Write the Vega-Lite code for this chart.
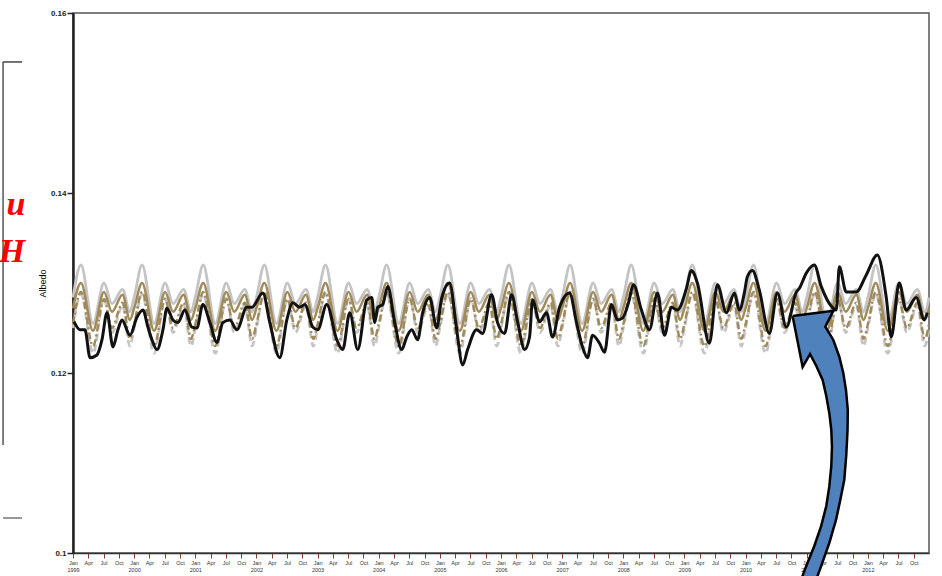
{
"$schema":"https://vega.github.io/schema/vega-lite/v6.json",
"width":856,"height":540,"autosize":"none",
"padding":{"left":73,"top":13,"right":13,"bottom":23},
"background":"white",
"config":{"view":{"stroke":"#555","strokeWidth":1.5},"font":"Liberation Sans"},
"datasets":{
"model":[
{"t":1999,"g":0.1284,"b":0.1272,"c":0.1254,"e":0.125},{"t":1999.13,"g":0.132,"b":0.13,"c":0.129,"e":0.1288},{"t":1999.327,"g":0.1255,"b":0.1247,"c":0.123,"e":0.1222},{"t":1999.507,"g":0.13,"b":0.129,"c":0.1282,"e":0.1283},{"t":1999.637,"g":0.1277,"b":0.1268,"c":0.125,"e":0.1245},{"t":1999.81,"g":0.1293,"b":0.1287,"c":0.1278,"e":0.1275},{"t":1999.93,"g":0.1268,"b":0.1259,"c":0.1238,"e":0.123},
{"t":2000,"g":0.1284,"b":0.1272,"c":0.1254,"e":0.125},{"t":2000.13,"g":0.132,"b":0.13,"c":0.129,"e":0.1288},{"t":2000.327,"g":0.1255,"b":0.1247,"c":0.123,"e":0.1222},{"t":2000.507,"g":0.13,"b":0.129,"c":0.1282,"e":0.1283},{"t":2000.637,"g":0.1277,"b":0.1268,"c":0.125,"e":0.1245},{"t":2000.81,"g":0.1293,"b":0.1287,"c":0.1278,"e":0.1275},{"t":2000.93,"g":0.1268,"b":0.1259,"c":0.1238,"e":0.123},
{"t":2001,"g":0.1284,"b":0.1272,"c":0.1254,"e":0.125},{"t":2001.13,"g":0.132,"b":0.13,"c":0.129,"e":0.1288},{"t":2001.327,"g":0.1255,"b":0.1247,"c":0.123,"e":0.1222},{"t":2001.507,"g":0.13,"b":0.129,"c":0.1282,"e":0.1283},{"t":2001.637,"g":0.1277,"b":0.1268,"c":0.125,"e":0.1245},{"t":2001.81,"g":0.1293,"b":0.1287,"c":0.1278,"e":0.1275},{"t":2001.93,"g":0.1268,"b":0.1259,"c":0.1238,"e":0.123},
{"t":2002,"g":0.1284,"b":0.1272,"c":0.1254,"e":0.125},{"t":2002.13,"g":0.132,"b":0.13,"c":0.129,"e":0.1288},{"t":2002.327,"g":0.1255,"b":0.1247,"c":0.123,"e":0.1222},{"t":2002.507,"g":0.13,"b":0.129,"c":0.1282,"e":0.1283},{"t":2002.637,"g":0.1277,"b":0.1268,"c":0.125,"e":0.1245},{"t":2002.81,"g":0.1293,"b":0.1287,"c":0.1278,"e":0.1275},{"t":2002.93,"g":0.1268,"b":0.1259,"c":0.1238,"e":0.123},
{"t":2003,"g":0.1284,"b":0.1272,"c":0.1254,"e":0.125},{"t":2003.13,"g":0.132,"b":0.13,"c":0.129,"e":0.1288},{"t":2003.327,"g":0.1255,"b":0.1247,"c":0.123,"e":0.1222},{"t":2003.507,"g":0.13,"b":0.129,"c":0.1282,"e":0.1283},{"t":2003.637,"g":0.1277,"b":0.1268,"c":0.125,"e":0.1245},{"t":2003.81,"g":0.1293,"b":0.1287,"c":0.1278,"e":0.1275},{"t":2003.93,"g":0.1268,"b":0.1259,"c":0.1238,"e":0.123},
{"t":2004,"g":0.1284,"b":0.1272,"c":0.1254,"e":0.125},{"t":2004.13,"g":0.132,"b":0.13,"c":0.129,"e":0.1288},{"t":2004.327,"g":0.1255,"b":0.1247,"c":0.123,"e":0.1222},{"t":2004.507,"g":0.13,"b":0.129,"c":0.1282,"e":0.1283},{"t":2004.637,"g":0.1277,"b":0.1268,"c":0.125,"e":0.1245},{"t":2004.81,"g":0.1293,"b":0.1287,"c":0.1278,"e":0.1275},{"t":2004.93,"g":0.1268,"b":0.1259,"c":0.1238,"e":0.123},
{"t":2005,"g":0.1284,"b":0.1272,"c":0.1254,"e":0.125},{"t":2005.13,"g":0.132,"b":0.13,"c":0.129,"e":0.1288},{"t":2005.327,"g":0.1255,"b":0.1247,"c":0.123,"e":0.1222},{"t":2005.507,"g":0.13,"b":0.129,"c":0.1282,"e":0.1283},{"t":2005.637,"g":0.1277,"b":0.1268,"c":0.125,"e":0.1245},{"t":2005.81,"g":0.1293,"b":0.1287,"c":0.1278,"e":0.1275},{"t":2005.93,"g":0.1268,"b":0.1259,"c":0.1238,"e":0.123},
{"t":2006,"g":0.1284,"b":0.1272,"c":0.1254,"e":0.125},{"t":2006.13,"g":0.132,"b":0.13,"c":0.129,"e":0.1288},{"t":2006.327,"g":0.1255,"b":0.1247,"c":0.123,"e":0.1222},{"t":2006.507,"g":0.13,"b":0.129,"c":0.1282,"e":0.1283},{"t":2006.637,"g":0.1277,"b":0.1268,"c":0.125,"e":0.1245},{"t":2006.81,"g":0.1293,"b":0.1287,"c":0.1278,"e":0.1275},{"t":2006.93,"g":0.1268,"b":0.1259,"c":0.1238,"e":0.123},
{"t":2007,"g":0.1284,"b":0.1272,"c":0.1254,"e":0.125},{"t":2007.13,"g":0.132,"b":0.13,"c":0.129,"e":0.1288},{"t":2007.327,"g":0.1255,"b":0.1247,"c":0.123,"e":0.1222},{"t":2007.507,"g":0.13,"b":0.129,"c":0.1282,"e":0.1283},{"t":2007.637,"g":0.1277,"b":0.1268,"c":0.125,"e":0.1245},{"t":2007.81,"g":0.1293,"b":0.1287,"c":0.1278,"e":0.1275},{"t":2007.93,"g":0.1268,"b":0.1259,"c":0.1238,"e":0.123},
{"t":2008,"g":0.1284,"b":0.1272,"c":0.1254,"e":0.125},{"t":2008.13,"g":0.132,"b":0.13,"c":0.129,"e":0.1288},{"t":2008.327,"g":0.1255,"b":0.1247,"c":0.123,"e":0.1222},{"t":2008.507,"g":0.13,"b":0.129,"c":0.1282,"e":0.1283},{"t":2008.637,"g":0.1277,"b":0.1268,"c":0.125,"e":0.1245},{"t":2008.81,"g":0.1293,"b":0.1287,"c":0.1278,"e":0.1275},{"t":2008.93,"g":0.1268,"b":0.1259,"c":0.1238,"e":0.123},
{"t":2009,"g":0.1284,"b":0.1272,"c":0.1254,"e":0.125},{"t":2009.13,"g":0.132,"b":0.13,"c":0.129,"e":0.1288},{"t":2009.327,"g":0.1255,"b":0.1247,"c":0.123,"e":0.1222},{"t":2009.507,"g":0.13,"b":0.129,"c":0.1282,"e":0.1283},{"t":2009.637,"g":0.1277,"b":0.1268,"c":0.125,"e":0.1245},{"t":2009.81,"g":0.1293,"b":0.1287,"c":0.1278,"e":0.1275},{"t":2009.93,"g":0.1268,"b":0.1259,"c":0.1238,"e":0.123},
{"t":2010,"g":0.1284,"b":0.1272,"c":0.1254,"e":0.125},{"t":2010.13,"g":0.132,"b":0.13,"c":0.129,"e":0.1288},{"t":2010.327,"g":0.1255,"b":0.1247,"c":0.123,"e":0.1222},{"t":2010.507,"g":0.13,"b":0.129,"c":0.1282,"e":0.1283},{"t":2010.637,"g":0.1277,"b":0.1268,"c":0.125,"e":0.1245},{"t":2010.81,"g":0.1293,"b":0.1287,"c":0.1278,"e":0.1275},{"t":2010.93,"g":0.1268,"b":0.1259,"c":0.1238,"e":0.123},
{"t":2011,"g":0.1284,"b":0.1272,"c":0.1254,"e":0.125},{"t":2011.13,"g":0.132,"b":0.13,"c":0.129,"e":0.1288},{"t":2011.327,"g":0.1255,"b":0.1247,"c":0.123,"e":0.1222},{"t":2011.507,"g":0.13,"b":0.129,"c":0.1282,"e":0.1283},{"t":2011.637,"g":0.1277,"b":0.1268,"c":0.125,"e":0.1245},{"t":2011.81,"g":0.1293,"b":0.1287,"c":0.1278,"e":0.1275},{"t":2011.93,"g":0.1268,"b":0.1259,"c":0.1238,"e":0.123},
{"t":2012,"g":0.1284,"b":0.1272,"c":0.1254,"e":0.125},{"t":2012.13,"g":0.132,"b":0.13,"c":0.129,"e":0.1288},{"t":2012.327,"g":0.1255,"b":0.1247,"c":0.123,"e":0.1222},{"t":2012.507,"g":0.13,"b":0.129,"c":0.1282,"e":0.1283},{"t":2012.637,"g":0.1277,"b":0.1268,"c":0.125,"e":0.1245},{"t":2012.81,"g":0.1293,"b":0.1287,"c":0.1278,"e":0.1275},{"t":2012.93,"g":0.1268,"b":0.1259,"c":0.1238,"e":0.123},
{"t":2013,"g":0.1284,"b":0.1272,"c":0.1254,"e":0.125}
],
"obs":[
{"t":1999.016,"v":0.1257},{"t":1999.114,"v":0.1248},{"t":1999.196,"v":0.1248},{"t":1999.278,"v":0.1217},{"t":1999.392,"v":0.122},{"t":1999.474,"v":0.1237},{"t":1999.556,"v":0.1267},{"t":1999.654,"v":0.1229},{"t":1999.735,"v":0.1248},{"t":1999.801,"v":0.1259},{"t":1999.931,"v":0.1242},
{"t":2000.046,"v":0.1262},{"t":2000.144,"v":0.127},{"t":2000.225,"v":0.1251},{"t":2000.291,"v":0.1237},{"t":2000.373,"v":0.1226},{"t":2000.471,"v":0.1248},{"t":2000.536,"v":0.1272},{"t":2000.634,"v":0.1259},{"t":2000.716,"v":0.1256},{"t":2000.83,"v":0.127},{"t":2000.944,"v":0.1251},
{"t":2001.026,"v":0.125},{"t":2001.124,"v":0.1276},{"t":2001.239,"v":0.1256},{"t":2001.353,"v":0.1234},{"t":2001.451,"v":0.1256},{"t":2001.565,"v":0.1259},{"t":2001.68,"v":0.1248},{"t":2001.843,"v":0.1273},{"t":2001.925,"v":0.1273},
{"t":2002.105,"v":0.1289},{"t":2002.219,"v":0.1256},{"t":2002.382,"v":0.1217},{"t":2002.497,"v":0.1259},{"t":2002.595,"v":0.1278},{"t":2002.709,"v":0.1273},{"t":2002.791,"v":0.1276},{"t":2002.922,"v":0.1251},
{"t":2003.003,"v":0.1248},{"t":2003.15,"v":0.1276},{"t":2003.314,"v":0.1237},{"t":2003.412,"v":0.1226},{"t":2003.526,"v":0.1267},{"t":2003.657,"v":0.1226},{"t":2003.804,"v":0.1281},{"t":2003.886,"v":0.1284},{"t":2003.935,"v":0.1256},{"t":2003.984,"v":0.1273},
{"t":2004.065,"v":0.1276},{"t":2004.147,"v":0.1296},{"t":2004.261,"v":0.1256},{"t":2004.376,"v":0.1226},{"t":2004.458,"v":0.124},{"t":2004.539,"v":0.1248},{"t":2004.637,"v":0.1237},{"t":2004.719,"v":0.1267},{"t":2004.833,"v":0.1284},{"t":2004.948,"v":0.125},
{"t":2005.029,"v":0.1283},{"t":2005.16,"v":0.13},{"t":2005.275,"v":0.1248},{"t":2005.373,"v":0.1209},{"t":2005.454,"v":0.1226},{"t":2005.601,"v":0.1248},{"t":2005.699,"v":0.1244},{"t":2005.846,"v":0.1287},{"t":2005.944,"v":0.1256},
{"t":2006.059,"v":0.1244},{"t":2006.173,"v":0.1287},{"t":2006.271,"v":0.1257},{"t":2006.386,"v":0.1226},{"t":2006.467,"v":0.124},{"t":2006.516,"v":0.1281},{"t":2006.631,"v":0.1257},{"t":2006.745,"v":0.1267},{"t":2006.843,"v":0.124},{"t":2006.958,"v":0.1273},
{"t":2007.121,"v":0.1289},{"t":2007.235,"v":0.1256},{"t":2007.333,"v":0.1229},{"t":2007.415,"v":0.1217},{"t":2007.497,"v":0.1242},{"t":2007.611,"v":0.1233},{"t":2007.693,"v":0.1223},{"t":2007.807,"v":0.1276},{"t":2007.905,"v":0.1259},{"t":2007.987,"v":0.1261},
{"t":2008.085,"v":0.1278},{"t":2008.167,"v":0.1298},{"t":2008.297,"v":0.127},{"t":2008.428,"v":0.1248},{"t":2008.559,"v":0.1289},{"t":2008.673,"v":0.1242},{"t":2008.788,"v":0.1273},{"t":2008.886,"v":0.127},
{"t":2009.033,"v":0.1294},{"t":2009.114,"v":0.1314},{"t":2009.212,"v":0.13},{"t":2009.408,"v":0.1233},{"t":2009.539,"v":0.1298},{"t":2009.686,"v":0.1267},{"t":2009.817,"v":0.1289},{"t":2009.899,"v":0.127},{"t":2009.98,"v":0.1289},
{"t":2010.029,"v":0.1307},{"t":2010.111,"v":0.1314},{"t":2010.225,"v":0.1292},{"t":2010.389,"v":0.1244},{"t":2010.52,"v":0.1289},{"t":2010.667,"v":0.1251},{"t":2010.83,"v":0.129},{"t":2010.879,"v":0.1294},{"t":2010.993,"v":0.1311},
{"t":2011.124,"v":0.132},{"t":2011.239,"v":0.1296},{"t":2011.418,"v":0.1273},{"t":2011.484,"v":0.127},{"t":2011.533,"v":0.1318},{"t":2011.647,"v":0.129},{"t":2011.81,"v":0.129},{"t":2011.974,"v":0.1309},
{"t":2012.154,"v":0.1331},{"t":2012.301,"v":0.1284},{"t":2012.382,"v":0.124},{"t":2012.513,"v":0.13},{"t":2012.627,"v":0.127},{"t":2012.791,"v":0.1284},{"t":2012.922,"v":0.1259},{"t":2012.971,"v":0.1267}
],
"arrow":[
{"i":0,"t":2010.769,"v":0.12633},{"i":1,"t":2011.435,"v":0.12692},{"i":2,"t":2011.304,"v":0.12514},{"i":3,"t":2011.435,"v":0.12367},{"i":4,"t":2011.533,"v":0.12181},{"i":5,"t":2011.598,"v":0.12},{"i":6,"t":2011.642,"v":0.11811},{"i":7,"t":2011.672,"v":0.11589},{"i":8,"t":2011.668,"v":0.11367},{"i":9,"t":2011.647,"v":0.11089},{"i":10,"t":2011.614,"v":0.10811},{"i":11,"t":2011.549,"v":0.10589},{"i":12,"t":2011.479,"v":0.10367},{"i":13,"t":2011.369,"v":0.10111},{"i":14,"t":2011.233,"v":0.09848},{"i":15,"t":2011.152,"v":0.097},
{"i":16,"t":2010.907,"v":0.097},{"i":17,"t":2010.988,"v":0.09848},{"i":18,"t":2011.124,"v":0.10078},{"i":19,"t":2011.233,"v":0.10292},{"i":20,"t":2011.32,"v":0.10522},{"i":21,"t":2011.369,"v":0.10737},{"i":22,"t":2011.402,"v":0.10967},{"i":23,"t":2011.413,"v":0.11181},{"i":24,"t":2011.402,"v":0.11367},{"i":25,"t":2011.369,"v":0.11556},{"i":26,"t":2011.32,"v":0.11744},{"i":27,"t":2011.26,"v":0.11922},{"i":28,"t":2011.157,"v":0.12078},{"i":29,"t":2011.054,"v":0.12211},{"i":30,"t":2010.933,"v":0.12067},{"i":31,"t":2010.769,"v":0.12633}
],
"rules":[
{"t":1997.856,"v":0.15456,"t2":1997.856,"v2":0.112,"c":"#555"},
{"t":1997.856,"v":0.15456,"t2":1998.167,"v2":0.15456,"c":"#444"},
{"t":1997.856,"v":0.10389,"t2":1998.167,"v2":0.10389,"c":"#777"}
],
"letters":[
{"t":1998.22,"v":0.1387,"s":"u"},
{"t":1998.22,"v":0.1334,"s":"H"}
]
},
"encoding":{
"x":{"field":"t","type":"quantitative","scale":{"domain":[1999,2013],"nice":false,"zero":false},
"axis":{"title":null,"grid":false,"values":[1999,1999.25,1999.5,1999.75,2000,2000.25,2000.5,2000.75,2001,2001.25,2001.5,2001.75,2002,2002.25,2002.5,2002.75,2003,2003.25,2003.5,2003.75,2004,2004.25,2004.5,2004.75,2005,2005.25,2005.5,2005.75,2006,2006.25,2006.5,2006.75,2007,2007.25,2007.5,2007.75,2008,2008.25,2008.5,2008.75,2009,2009.25,2009.5,2009.75,2010,2010.25,2010.5,2010.75,2011,2011.25,2011.5,2011.75,2012,2012.25,2012.5,2012.75],
"labelExpr":"datum.value % 1 == 0 ? ['Jan', format(datum.value,'d')] : ['Apr','Jul','Oct'][round((datum.value % 1)*4)-1]",
"labelFontSize":5.5,"labelColor":"#333","labelLineHeight":7,"labelPadding":2,"labelFlush":false,"labelOverlap":false,
"tickColor":"#8c3b2e","tickSize":5,"tickWidth":1,"domainColor":"#333","domainWidth":1.5}},
"y":{"field":"v","type":"quantitative","scale":{"domain":[0.1,0.16],"nice":false,"zero":false},
"axis":{"title":"Albedo","titleFontSize":9,"titleFontWeight":"normal","titleColor":"#000","titlePadding":3,"grid":false,"values":[0.1,0.12,0.14,0.16],"format":".2~f",
"labelFontSize":8,"labelFontWeight":"bold","labelColor":"#222","labelPadding":1,"tickSize":6,"tickWidth":1.5,"tickColor":"#222","domainColor":"#222","domainWidth":2.5}}
},
"layer":[
{"data":{"name":"model"},"transform":[{"fold":["g","b","c","e"],"as":["k","v"]}],
"layer":[
{"transform":[{"filter":"datum.k=='e'"}],"mark":{"type":"line","interpolate":"monotone","color":"#c4c4c4","strokeWidth":2.8,"strokeDash":[7,4]}},
{"transform":[{"filter":"datum.k=='c'"}],"mark":{"type":"line","interpolate":"monotone","color":"#a08a5a","strokeWidth":2.5,"strokeDash":[7,3,2,3]}},
{"transform":[{"filter":"datum.k=='g'"}],"mark":{"type":"line","interpolate":"monotone","color":"#c4c4c4","strokeWidth":2.8}},
{"transform":[{"filter":"datum.k=='b'"}],"mark":{"type":"line","interpolate":"monotone","color":"#a08a5a","strokeWidth":2.5}}
]},
{"data":{"name":"obs"},"mark":{"type":"line","interpolate":"monotone","color":"#111","strokeWidth":3}},
{"data":{"name":"arrow"},"mark":{"type":"line","interpolate":"linear","stroke":"#000","fill":"#4f81bd","strokeWidth":2.5,"strokeJoin":"miter"},"encoding":{"order":{"field":"i","type":"quantitative"}}},
{"data":{"name":"rules"},"mark":{"type":"rule","strokeWidth":1.5},"encoding":{"x2":{"field":"t2"},"y2":{"field":"v2"},"color":{"field":"c","type":"nominal","scale":null}}},
{"data":{"name":"letters"},"mark":{"type":"text","align":"right","baseline":"middle","font":"Liberation Serif","fontSize":34,"fontStyle":"italic","fontWeight":"bold","color":"#ff0000"},"encoding":{"text":{"field":"s"}}}
]
}
